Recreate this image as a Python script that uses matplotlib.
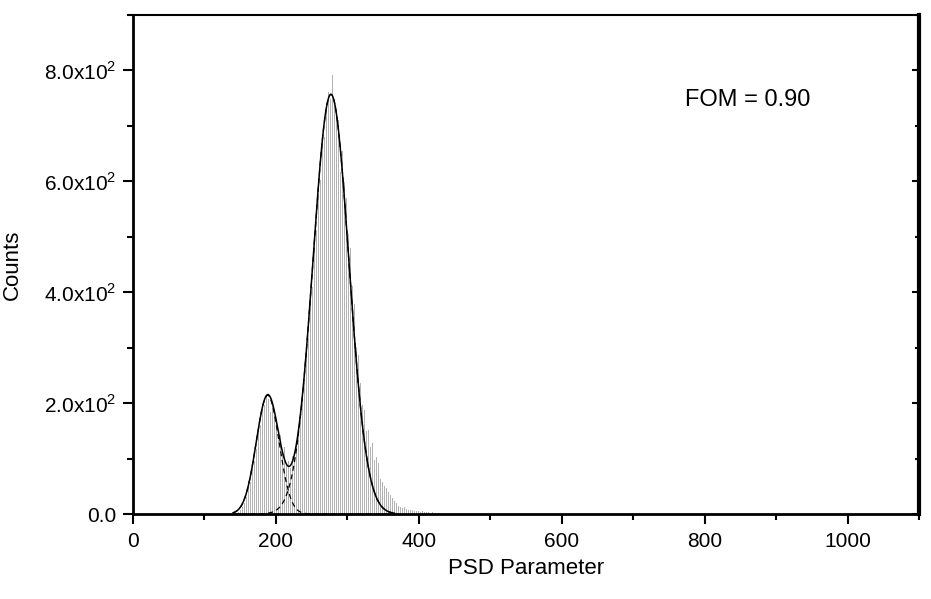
import numpy as np
import matplotlib.pyplot as plt
from matplotlib.ticker import MultipleLocator, FuncFormatter

plt.rcParams['font.family'] = ['Liberation Sans', 'DejaVu Sans']
plt.rcParams['mathtext.fontset'] = 'custom'
plt.rcParams['mathtext.rm'] = 'Liberation Sans'

# histogram of the PSD parameter (bin width 2.8, first bin edge at 140)
bin_start = 140.0
bin_width = 2.8
counts = [1, 2, 4, 8, 13, 20, 30, 47, 58, 84,
          96, 118, 150, 160, 190, 196, 214, 208, 184, 197,
          176, 171, 146, 142, 108, 121, 88, 95, 83, 104,
          102, 128, 146, 170, 215, 236, 292, 318, 385, 410,
          482, 512, 578, 603, 664, 680, 726, 762, 748, 792,
          741, 728, 710, 617, 655, 598, 570, 505, 479, 412,
          378, 301, 286, 236, 196, 187, 150, 152, 120, 128,
          98, 102, 92, 64, 58, 50, 46, 40, 34, 28,
          24, 19, 15, 13, 11, 12, 9, 8, 7, 8,
          6, 5, 5, 4, 6, 3, 4, 3, 2, 3,
          2, 1, 2]

# two-gaussian fit (amplitude, centre, sigma)
peak1 = (214, 188.5, 16.0)
peak2 = (757, 277.0, 25.0)
fit_range = (140, 366)
fom_text = 'FOM = 0.90'

counts = np.array(counts)
centers = bin_start + bin_width / 2 + bin_width * np.arange(len(counts))

def gauss(x, a, mu, s):
    return a * np.exp(-(x - mu) ** 2 / (2 * s ** 2))

xf = np.linspace(fit_range[0], fit_range[1], 600)
g1 = gauss(xf, *peak1)
g2 = gauss(xf, *peak2)

fig = plt.figure(figsize=(9.31, 5.99), dpi=100)
ax = fig.add_axes([133 / 931, 1 - 514 / 599, (919 - 133) / 931, (514 - 15) / 599])

ax.bar(centers, counts, width=1.4, color='#b2b2b2', linewidth=0)
ax.plot(xf, g1, color='black', lw=0.9, ls=(0, (4, 3)))
ax.plot(xf, g2, color='black', lw=0.9, ls=(0, (4, 3)))
ax.plot(xf, g1 + g2, color='black', lw=1.1)

ax.set_xlim(0, 1100)
ax.set_ylim(0, 900)
ax.xaxis.set_major_locator(MultipleLocator(200))
ax.xaxis.set_minor_locator(MultipleLocator(100))
ax.yaxis.set_major_locator(MultipleLocator(200))
ax.yaxis.set_minor_locator(MultipleLocator(100))

def yfmt(v, pos):
    if v == 0:
        return '0.0'
    return '%.1fx10$^{\\mathregular{2}}$' % (v / 100)

ax.yaxis.set_major_formatter(FuncFormatter(yfmt))

ax.tick_params(which='both', direction='out', top=False, right=False,
               labelsize=15, width=1.5)
ax.tick_params(which='major', length=7)
ax.tick_params(axis='x', which='major', pad=6)
ax.tick_params(axis='y', which='major', pad=5)
ax.tick_params(which='minor', length=4)

ax.spines['left'].set_linewidth(2)
ax.spines['bottom'].set_linewidth(2)
ax.spines['top'].set_linewidth(1.5)
ax.spines['right'].set_visible(False)

sec = ax.secondary_yaxis('right')
sec.yaxis.set_major_locator(MultipleLocator(200))
sec.yaxis.set_minor_locator(MultipleLocator(100))
sec.tick_params(which='both', direction='in', labelright=False, width=1.5)
sec.tick_params(which='major', length=5)
sec.tick_params(which='minor', length=3)
sec.spines['right'].set_linewidth(3)

ax.set_xlabel('PSD Parameter', fontsize=16, labelpad=5)
ax.set_ylabel('Counts', fontsize=16, labelpad=15)
ax.text(772, 746, fom_text, fontsize=17, ha='left', va='center')

fig.savefig('out.png', dpi=100)
